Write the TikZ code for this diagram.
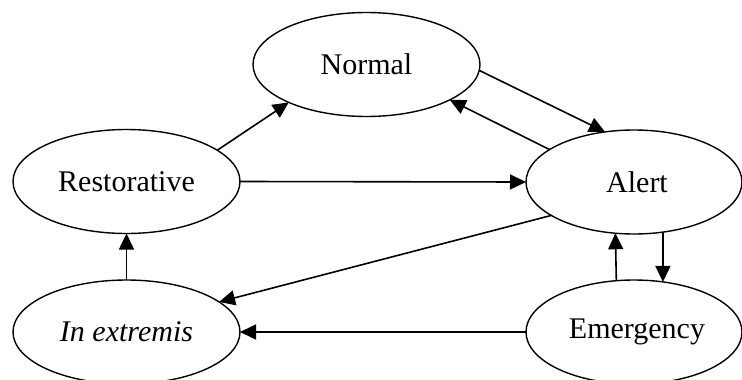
\documentclass[tikz,border=0pt]{standalone}
\usepackage{fontspec}
\setmainfont{Liberation Serif}
\usetikzlibrary{shapes.geometric,arrows.meta}
\begin{document}
\begin{tikzpicture}[x=1pt,y=-1pt,
  state/.style={draw,ellipse,line width=1.4pt,inner sep=0pt,outer sep=0pt,minimum width=227pt,minimum height=104pt,font=\fontsize{30}{34}\selectfont},
  statew/.style={state,minimum width=216pt},
  link/.style={line width=1.6pt,-{Triangle[length=16pt,width=15pt]}}]
\useasboundingbox (0,0) rectangle (742,380);
\clip (0,0) rectangle (742,380);
\node[state] (normal) at (366.5,64.5) {Normal};
\node[state] (rest) at (126.5,181.5) {Restorative};
\node[statew] (alert) at (634,182) {\hspace*{6pt}Alert};
\node[state] (extr) at (126.5,332) {\itshape In extremis};
\node[statew] (emer) at (634,332) {\hspace*{6pt}Emergency};
\draw[link] (rest.19.2) -- (normal.206.1);
\draw[link] (normal.-3.8) -- (alert.120);
\draw[link] (alert.159.4) -- (normal.-23.3);
\draw[link] (rest.east) -- (alert.west);
\draw[link] (extr.north) -- (rest.south);
\draw[link] (alert.202.4) -- (extr.18.3);
\draw[link] (emer.west) -- (extr.east);
\draw[link] (emer.109.3) -- (alert.250.7);
\draw[link] (alert.-60.8) -- (emer.60.8);
\end{tikzpicture}
\end{document}
